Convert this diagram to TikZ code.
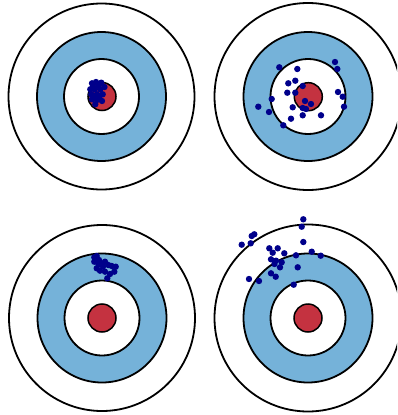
\documentclass[tikz,border=0pt]{standalone}
\usepackage{tikz}

\definecolor{ringblue}{RGB}{117,178,217}
\definecolor{bullred}{RGB}{196,50,64}
\definecolor{shotnavy}{RGB}{0,0,139}

\begin{document}
\begin{tikzpicture}[
    x=1pt, y=-1pt,
    outer/.style={draw=black, line width=1.8pt, fill=white},
    middle/.style={draw=black, line width=1.8pt, fill=ringblue},
    inner/.style={draw=black, line width=1.8pt, fill=white},
    bull/.style={draw=black, line width=1.5pt, fill=bullred},
    shot/.style={fill=shotnavy}
]
\useasboundingbox (0,0) rectangle (397,415);
\clip (0,0) rectangle (397,415);

% Target 1: precise and accurate
\draw[outer] (101.5,96.5) circle (93);
\draw[middle] (101.5,96.5) circle (64.5);
\draw[inner] (101.5,96.5) circle (37.5);
\draw[bull] (102,96.5) circle (14);
\foreach \p in {(92,83.3),(96,82),(101.3,82.7),(90.3,89.3),(94.7,89.3),(100.3,89.3),
    (91.3,94.3),(97,94.3),(102.7,94.3),(92,99.3),(97,100),(102,101),(95.3,104.3),
    (98.5,86),(93,86.5),(99,97),(95,97.5),(104.5,87)}
  \fill[shot] \p circle (3.2);

% Target 2: accurate, not precise
\draw[outer] (308,96.5) circle (93.5);
\draw[middle] (308,96.5) circle (64.5);
\draw[inner] (308,96.5) circle (37.5);
\draw[bull] (308.3,96.7) circle (14);
\foreach \p in {(279.3,67.3),(297.3,69),(335,62),(337.3,69),(288.3,83.3),(295.3,80.7),
    (302.7,86),(287.3,92.7),(295.3,92.7),(338,92),(342.7,96.7),(271.7,99),(258.3,106.7),
    (269,112),(292.7,107.3),(305,101),(311,104),(302.7,108),(306,109),(344,106.7),
    (291,118.7),(302.7,115.3),(321,115.3),(283.3,125.3)}
  \fill[shot] \p circle (3.2);

% Target 3: precise, not accurate
\draw[outer] (102,318) circle (93);
\draw[middle] (102,318) circle (64.5);
\draw[inner] (102,318) circle (37.5);
\draw[bull] (102,318) circle (14);
\foreach \p in {(94.3,257.3),(96.7,256),(94.3,261.7),(99,260),(101.7,263.3),(105,261.7),
    (108.3,265),(111.7,266),(115.7,266.7),(96.7,268.3),(100,270.7),(105,271.7),
    (110,274),(114.3,271.7),(107.3,278.3),(103,266.5),(98.5,264.5)}
  \fill[shot] \p circle (3.2);

% Target 4: neither precise nor accurate
\draw[outer] (308,318) circle (93.5);
\draw[middle] (308,318) circle (64.5);
\draw[inner] (308,318) circle (37.5);
\draw[bull] (308,318) circle (14);
\foreach \p in {(303.3,219.3),(301.7,226.7),(254.3,234.3),(251.7,236),(241.7,244.7),
    (250.7,243.3),(303.3,242),(269.3,248.3),(277.7,248.3),(272.7,252.7),(284.3,253.3),
    (296,255.3),(311.7,251.7),(320.7,255.7),(271,259.3),(276,260.7),(281.7,262.3),
    (274.5,264),(280,267.3),(297.7,267.3),(271,273.3),(275.7,276.7),(249,279),
    (259,281),(293.7,284.7)}
  \fill[shot] \p circle (3.2);

\end{tikzpicture}
\end{document}
